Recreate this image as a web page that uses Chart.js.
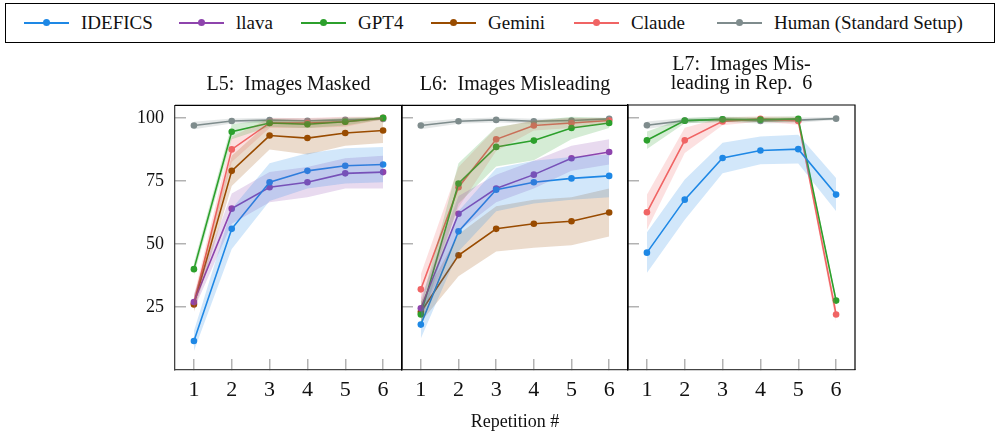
<!DOCTYPE html>
<html>
<head>
<meta charset="utf-8">
<title>Repetition chart</title>
<script src="https://cdn.jsdelivr.net/npm/chart.js@4.4.1/dist/chart.umd.min.js"></script>
<style>
  body { margin: 0; background: #fff; font-family: "Liberation Serif", serif; }
  #wrap { position: relative; width: 1000px; height: 434px; overflow: hidden; }
  #legend { position: absolute; left: 5px; top: 3px; width: 990px; height: 40px; box-sizing: border-box; border: 1px solid #000; font-size: 19px; color: #111; }
  .item { position: absolute; top: 0; height: 38px; display: flex; align-items: center; }
  .sym { position: relative; width: 45px; height: 1.5px; margin-right: 12px; }
  .sym i { position: absolute; left: 19px; top: -3px; width: 7px; height: 7px; border-radius: 50%; }
  canvas { position: absolute; top: 50px; }
</style>
</head>
<body>
<div id="wrap">
  <div id="legend"></div>
  <canvas id="c5" width="310" height="384" style="left:100px"></canvas>
  <canvas id="c6" width="246" height="384" style="left:392px"></canvas>
  <canvas id="c7" width="247" height="384" style="left:618px"></canvas>
</div>
<script>
// Datos
const reps = ['1', '2', '3', '4', '5', '6'];
const yTicks = [25, 50, 75, 100];
const names = ['IDEFICS', 'llava', 'GPT4', 'Gemini', 'Claude', 'Human (Standard Setup)'];
const colors = ['#1E88E5', '#8E44AD', '#2CA02C', '#994C00', '#F06464', '#7F8C8D'];

// L5: Images Masked
const idefics5 = [11.5, 56, 74.5, 79, 81, 81.5];
const idefics5Err = [4, 8, 7.5, 7, 7, 7];
const llava5 = [27, 64, 72.5, 74.5, 78, 78.5];
const llava5Err = [3, 6, 6, 6, 6, 6.5];
const gpt5 = [40, 94.5, 98, 97.5, 98.5, 100];
const gpt5Err = [2.5, 3, 1.5, 1.5, 1.5, 0.5];
const gemini5 = [26, 79, 93, 92, 94, 95];
const gemini5Err = [3, 6, 5.5, 6.5, 5, 5];
const claude5 = [26.5, 87.5, 98, 98, 98.5, 100];
const claude5Err = [3, 5, 2, 2, 2, 0.5];
const human5 = [97, 98.8, 99.1, 98.9, 99.2, 99.6];
const human5Err = [1.5, 1, 1, 1, 1, 0.5];

// L6: Images Misleading
const idefics6 = [18, 55, 71.5, 74.5, 76, 77];
const idefics6Err = [5.5, 8, 8.5, 8.5, 8.5, 8.5];
const llava6 = [24.5, 62, 72, 77.5, 84, 86.5];
const llava6Err = [4, 7, 5.5, 5.5, 5, 5];
const gpt6 = [22, 74, 88.5, 91, 96, 98];
const gpt6Err = [4, 8, 7.8, 7.8, 4.5, 2];
const gemini6 = [23, 45.5, 56, 58, 59, 62.5];
const gemini6Err = [4, 8.3, 9, 9.5, 9.5, 9.5];
const claude6 = [32, 72.5, 91.5, 97, 98, 99];
const claude6Err = [6, 8, 4.6, 2, 2, 1];
const human6 = [97, 98.7, 99.2, 98.7, 99, 99.6];
const human6Err = [1.5, 1, 1, 1, 1, 0.5];

// L7: Images Misleading in Rep. 6
const idefics7 = [46.5, 67.5, 84, 87, 87.5, 69.5];
const idefics7Err = [8, 8, 6, 5.5, 5.7, 6.5];
const gpt7 = [91, 98.8, 99.3, 99.2, 99.5, 27.5];
const gpt7Err = [3.5, 1, 1, 1, 1, 1.5];
const claude7 = [62.5, 91, 98.5, 99.5, 98.7, 22];
const claude7Err = [7, 5, 1.5, 1, 1.5, 3];
const human7 = [97, 98.8, 99.3, 98.7, 99, 99.6];
const human7Err = [1.5, 1, 1, 1, 1, 0.5];

// Leyenda
const legendLeft = [18, 173, 295, 425, 568, 711];
const legend = document.querySelector('#legend');
names.forEach((name, i) => {
    const item = document.createElement('div');
    item.className = 'item';
    item.style.left = legendLeft[i] + 'px';
    item.innerHTML = `<span class="sym" style="background:${colors[i]}"><i style="background:${colors[i]}"></i></span><span>${name}</span>`;
    legend.appendChild(item);
});

// Utils
function alpha(hex, a) {
    const n = parseInt(hex.slice(1), 16);
    return `rgba(${n >> 16},${(n >> 8) & 255},${n & 255},${a})`;
}

const frame = {
    id: 'frame',
    afterDraw(chart) {
        const { ctx, chartArea: a } = chart;
        ctx.save();
        ctx.strokeStyle = '#000';
        ctx.lineWidth = 1.2;
        ctx.beginPath();
        ctx.moveTo(a.left, a.top);
        ctx.lineTo(a.right, a.top);
        ctx.lineTo(a.right, a.bottom);
        ctx.stroke();
        ctx.restore();
    }
};

function makePanel(id, title, series, opts) {
    const bands = [];
    const lines = [];
    series.forEach(s => {
        const c = colors[s.idx];
        bands.push({
            data: s.data.map((v, i) => v - s.err[i]),
            borderWidth: 0, pointRadius: 0, fill: false
        });
        bands.push({
            data: s.data.map((v, i) => v + s.err[i]),
            borderWidth: 0, pointRadius: 0, fill: '-1',
            backgroundColor: alpha(c, 0.2)
        });
        lines.push({
            label: names[s.idx],
            data: s.data,
            borderColor: c,
            backgroundColor: c,
            borderWidth: 1.6,
            pointRadius: 3.3,
            pointBorderWidth: 0,
            fill: false
        });
    });

    new Chart(document.querySelector(id), {
        type: 'line',
        data: { labels: reps, datasets: bands.concat(lines) },
        plugins: [frame],
        options: {
            responsive: false,
            animation: false,
            devicePixelRatio: 1,
            layout: { padding: { right: opts.padRight } },
            elements: { line: { tension: 0 } },
            plugins: {
                legend: { display: false },
                tooltip: { enabled: false },
                title: {
                    display: true,
                    text: title,
                    fullSize: false,
                    color: '#111',
                    font: { family: 'Liberation Serif', size: 20, weight: 'normal', lineHeight: 0.915 },
                    padding: opts.titlePad
                }
            },
            scales: {
                x: {
                    offset: true,
                    afterFit: s => { s.height = 64; },
                    grid: { offset: false, drawOnChartArea: false, tickLength: -11, color: 'rgba(0,0,0,0.3)', lineWidth: 1.5 },
                    border: { color: opts.xBorder, width: 1.3 },
                    ticks: { color: '#111', padding: 18, font: { family: 'Liberation Serif', size: 22 } },
                    title: {
                        display: !!opts.xTitle,
                        text: opts.xTitle,
                        color: '#111',
                        padding: { bottom: 1 },
                        font: { family: 'Liberation Serif', size: 18 }
                    }
                },
                y: {
                    min: 0,
                    max: 105,
                    afterBuildTicks: s => { s.ticks = yTicks.map(v => ({ value: v })); },
                    afterFit: s => { s.width = opts.yWidth; },
                    grid: { drawOnChartArea: false, tickLength: -11, color: 'rgba(0,0,0,0.3)', lineWidth: 1.5 },
                    border: { color: opts.yBorder, width: 1.3 },
                    ticks: { display: opts.yLabels, color: '#111', padding: 22, font: { family: 'Liberation Serif', size: 18 } }
                }
            }
        }
    });
}

makePanel('#c5', 'L5:  Images Masked', [
    { idx: 0, data: idefics5, err: idefics5Err },
    { idx: 1, data: llava5, err: llava5Err },
    { idx: 2, data: gpt5, err: gpt5Err },
    { idx: 3, data: gemini5, err: gemini5Err },
    { idx: 4, data: claude5, err: claude5Err },
    { idx: 5, data: human5, err: human5Err }
], { yWidth: 75, padRight: 8, yLabels: true, xBorder: '#444', yBorder: '#444', titlePad: { top: 26, bottom: 11 } });

makePanel('#c6', 'L6:  Images Misleading', [
    { idx: 0, data: idefics6, err: idefics6Err },
    { idx: 1, data: llava6, err: llava6Err },
    { idx: 2, data: gpt6, err: gpt6Err },
    { idx: 3, data: gemini6, err: gemini6Err },
    { idx: 4, data: claude6, err: claude6Err },
    { idx: 5, data: human6, err: human6Err }
], { yWidth: 10, padRight: 10, yLabels: false, xBorder: '#444', yBorder: '#000', xTitle: 'Repetition #', titlePad: { top: 26, bottom: 11 } });

makePanel('#c7', ['L7:  Images Mis-', 'leading in Rep.  6'], [
    { idx: 0, data: idefics7, err: idefics7Err },
    { idx: 2, data: gpt7, err: gpt7Err },
    { idx: 4, data: claude7, err: claude7Err },
    { idx: 5, data: human7, err: human7Err }
], { yWidth: 10, padRight: 10, yLabels: false, xBorder: '#444', yBorder: '#000', titlePad: { top: 6, bottom: 12.4 } });
</script>
</body>
</html>
